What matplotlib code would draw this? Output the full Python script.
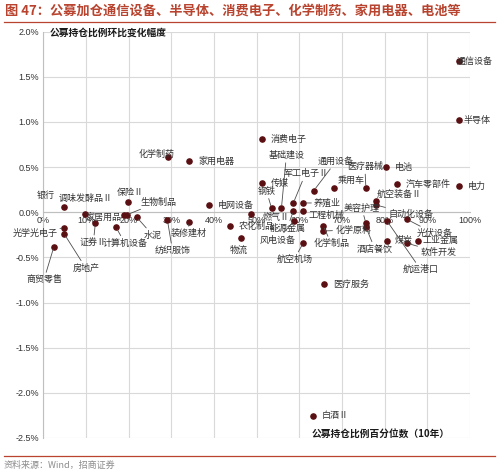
import matplotlib.pyplot as plt
from matplotlib.lines import Line2D
from matplotlib.ticker import FuncFormatter

plt.rcParams['font.family'] = ['Noto Sans CJK SC', 'DejaVu Sans']

# 行业 / 公募持仓比例百分位数(10年, %) / 持仓比例环比变化(%)
names = ['通信设备', '半导体', '电力', '消费电子', '化学制药', '家用电器', '电池', '汽车零部件',
         '传媒', '通用设备', '乘用车', '医疗器械', '航空装备Ⅱ', '自动化设备', '电网设备',
         '银行', '保险Ⅱ', '生物制品', '家居用品', '调味发酵品Ⅱ', '证券Ⅱ', '计算机设备', '水泥',
         '纺织服饰', '装修建材', '光学光电子', '房地产', '商贸零售', '农化制品', '物流', '燃气Ⅱ',
         '钢铁', '基础建设', '军工电子Ⅱ', '养殖业', '能源金属', '工程机械', '风电设备', '航空机场',
         '化学制品', '化学原料', '美容护理', '酒店餐饮', '航运港口', '光伏设备', '煤炭', '工业金属',
         '软件开发', '医疗服务', '白酒Ⅱ']
pct = [97.5, 97.5, 97.5, 51.2, 29.2, 34.2, 80.4, 83.0,
       51.2, 63.4, 68.2, 75.6, 78.0, 78.0, 38.9,
       4.9, 19.9, 19.5, 19.0, 9.8, 12.2, 17.0, 21.9,
       29.1, 34.1, 4.9, 4.9, 2.5, 43.8, 46.3, 48.6,
       53.5, 55.8, 58.6, 60.9, 58.6, 60.9, 58.8, 60.9,
       65.6, 65.6, 75.6, 75.6, 80.5, 85.3, 80.5, 87.7,
       85.3, 65.8, 63.3]
chg = [1.67, 1.02, 0.29, 0.81, 0.61, 0.57, 0.50, 0.31,
       0.32, 0.24, 0.27, 0.27, 0.12, 0.08, 0.08,
       0.055, 0.117, -0.03, -0.035, -0.022, -0.122, -0.163, -0.055,
       -0.09, -0.104, -0.17, -0.24, -0.38, -0.152, -0.281, -0.022,
       0.044, 0.042, 0.103, 0.103, 0.014, 0.014, -0.096, -0.343,
       -0.148, -0.207, -0.122, -0.163, -0.093, -0.08, -0.315, -0.315,
       -0.343, -0.797, -2.256]

# label placement: (dx px, dy px, ha, leader line)
lab = {
    '通信设备': (-3, 0, 'left', False), '半导体': (4, 0, 'left', False), '电力': (9, 0, 'left', False),
    '消费电子': (9, 0, 'left', False), '化学制药': (-11, 3, 'center', False),
    '家用电器': (9, 0, 'left', False), '电池': (9, 0, 'left', False), '汽车零部件': (8, 0, 'left', False),
    '传媒': (9, 0, 'left', False), '通用设备': (22, 29, 'center', True), '乘用车': (17, 8, 'center', False),
    '医疗器械': (-1, 21, 'center', True), '航空装备Ⅱ': (23, 7, 'center', False),
    '自动化设备': (12, -9, 'left', True), '电网设备': (9, 0, 'left', False),
    '银行': (-19, 12, 'center', False), '保险Ⅱ': (2, 9, 'center', False),
    '生物制品': (14, 13, 'left', True), '家居用品': (-3, -2, 'right', False),
    '调味发酵品Ⅱ': (1, 16, 'center', False), '证券Ⅱ': (-2, -19, 'center', True),
    '计算机设备': (9, -16, 'center', True), '水泥': (16, -18, 'center', True),
    '纺织服饰': (5, -30, 'center', True), '装修建材': (0, -12, 'center', True),
    '光学光电子': (-7, -6, 'right', True), '房地产': (8, -34, 'left', True),
    '商贸零售': (-10, -33, 'center', True), '农化制品': (9, 0, 'left', False),
    '物流': (-2, -13, 'center', False), '燃气Ⅱ': (12, -3, 'left', False),
    '钢铁': (-5, 17, 'center', True), '基础建设': (5, 53, 'center', True),
    '军工电子Ⅱ': (12, 29, 'center', True), '养殖业': (11, 0, 'left', True),
    '能源金属': (-6, -17, 'center', True), '工程机械': (5, -4, 'left', False),
    '风电设备': (-17, -19, 'center', True), '航空机场': (-9, -16, 'center', True),
    '化学制品': (8, -18, 'center', True), '化学原料': (12, 1, 'left', True),
    '美容护理': (-4, 15, 'center', True), '酒店餐饮': (9, -22, 'center', True),
    '航运港口': (16, -49, 'left', True), '光伏设备': (9, -14, 'left', True),
    '煤炭': (8, 0, 'left', False), '工业金属': (5, 0, 'left', False),
    '软件开发': (13, -9, 'left', True), '医疗服务': (9, 0, 'left', False),
    '白酒Ⅱ': (8, 0, 'left', False),
}

red = '#B8432E'
fig = plt.figure(figsize=(5, 4.75), dpi=100)
ax = fig.add_axes([0.0866, 0.0779, 0.8534, 0.8554])

ax.scatter(pct, chg, s=14, color='#5A0F12', zorder=3)

for n, x, y in zip(names, pct, chg):
    dx, dy, ha, leader = lab[n]
    ap = None
    if leader:
        ap = dict(arrowstyle='-', color='#4D4D4D', lw=0.6, shrinkA=0, shrinkB=2)
    ax.annotate(n, (x, y), xytext=(dx, dy), textcoords='offset pixels',
                ha=ha, va='center', fontsize=6.5, color='#333333',
                arrowprops=ap, zorder=4)

ax.set_xlim(0, 100)
ax.set_ylim(-2.5, 2.0)
ax.set_xticks(range(0, 101, 10))
ax.set_yticks([2.0, 1.5, 1.0, 0.5, 0.0, -0.5, -1.0, -1.5, -2.0, -2.5])
ax.xaxis.set_major_formatter(FuncFormatter(lambda v, p: f'{v:.0f}%'))
ax.yaxis.set_major_formatter(FuncFormatter(lambda v, p: f'{v:.1f}%'))
ax.grid(True, color='#D9D9D9', lw=0.8)
ax.set_axisbelow(True)
for s in ['top', 'right']:
    ax.spines[s].set_visible(False)
ax.spines['bottom'].set_position(('data', 0))
ax.spines['bottom'].set_color('#BFBFBF')
ax.spines['left'].set_color('#BFBFBF')
ax.tick_params(length=0, labelsize=6.5, labelcolor='#333333', pad=3)
for t in ax.get_xticklabels() + ax.get_yticklabels():
    t.set_family(['Liberation Sans', 'DejaVu Sans'])

fig.text(50 / 500, 1 - 33 / 475, '公募持仓比例环比变化幅度', fontsize=7, weight='bold',
         va='center', ha='left', color='#1A1A1A')
fig.text(312 / 500, 1 - 434 / 475, '公募持仓比例百分位数（10年）', fontsize=7, weight='bold',
         va='center', ha='left', color='#1A1A1A')

fig.text(5 / 500, 1 - 12 / 475, '图 47：公募加仓通信设备、半导体、消费电子、化学制药、家用电器、电池等',
         fontsize=9.5, weight='bold', color=red, va='center', ha='left')
fig.add_artist(Line2D([0.008, 0.99], [1 - 22 / 475] * 2, color=red, lw=0.9))
fig.add_artist(Line2D([0.008, 0.99], [1 - 456 / 475] * 2, color=red, lw=0.9))
fig.text(4 / 500, 1 - 465 / 475, '资料来源：Wind，招商证券', fontsize=6.5, color='#8C8C8C',
         va='center', ha='left')

fig.savefig('out.png', dpi=100)
